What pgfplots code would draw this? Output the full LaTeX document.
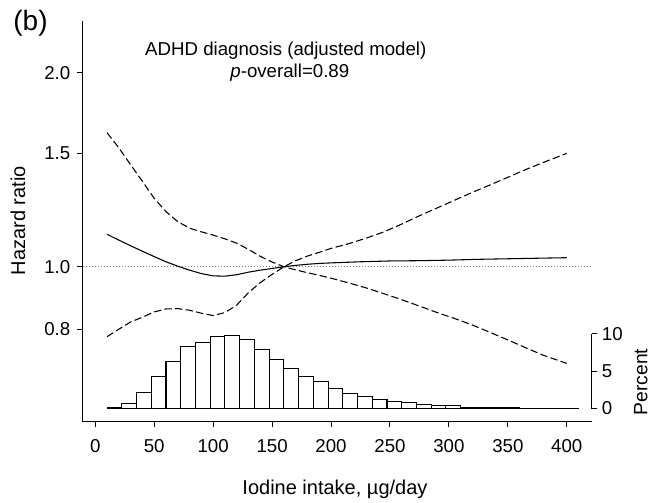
\documentclass[border=0pt]{standalone}
\usepackage{fontspec}
\setmainfont{Liberation Sans}
\usepackage{pgfplots}
\pgfplotsset{compat=1.18}

\pgfplotsset{
  common/.style={
    scale only axis, width=381.6pt, height=300.5pt,
    xmin=-10.7, xmax=421,
    tick align=outside, major tick length=4.3pt,
    tick style={line width=0.75pt, black},
    axis line style={line width=0.75pt},
    ticklabel style={font=\fontsize{14}{16}\selectfont},
    /pgf/number format/assume math mode=true,
  }
}

\begin{document}
\begin{tikzpicture}
\begin{axis}[common,
  ymode=log, ymin=0.5746, ymax=2.407,
  axis x line*=bottom, axis y line*=left,
  xtick={0,50,...,400},
  ytick={0.8,1,1.5,2}, yticklabels={0.8,1.0,1.5,2.0},
  yminorticks=false,
  xticklabel style={yshift=-5.5pt},
  yticklabel style={xshift=-1.5pt},
]
% reference line HR = 1
\addplot[gray, line width=0.75pt, dash pattern=on 0.75pt off 1.5pt] coordinates {(-10.7,1) (421,1)};
% estimate
\addplot[black, line width=0.8pt] coordinates {
(10,1.123) (20,1.100) (30,1.078) (40,1.057) (50,1.037) (60,1.018) (70,1.002)
(80,0.988) (90,0.976) (100,0.968) (110,0.967) (120,0.972) (130,0.981) (140,0.988)
(150,0.994) (160,1.0) (170,1.005) (180,1.009) (190,1.012) (200,1.014) (225,1.018)
(250,1.021) (275,1.022) (300,1.024) (325,1.027) (350,1.029) (375,1.031) (400,1.033)
};
% confidence limits
\addplot[black, line width=0.8pt, dash pattern=on 5.5pt off 2.5pt] coordinates {
(10,1.615) (20,1.53) (30,1.44) (40,1.357) (50,1.277) (60,1.218) (70,1.175) (80,1.148)
(90,1.133) (100,1.12) (110,1.105) (120,1.088) (130,1.064) (140,1.038) (150,1.017)
(160,1.0) (170,0.989) (180,0.979) (190,0.970) (200,0.960) (215,0.944) (230,0.927)
(245,0.908) (260,0.889) (275,0.869) (290,0.849) (305,0.831) (320,0.812) (335,0.791)
(350,0.770) (365,0.749) (380,0.729) (400,0.708)
};
\addplot[black, line width=0.8pt, dash pattern=on 5.5pt off 2.5pt] coordinates {
(10,0.779) (20,0.800) (30,0.821) (40,0.835) (50,0.851) (60,0.860) (70,0.861) (80,0.856)
(90,0.847) (100,0.840) (110,0.849) (120,0.872) (130,0.912) (140,0.945) (150,0.973)
(160,1.0) (170,1.022) (180,1.039) (190,1.053) (200,1.068) (215,1.086) (230,1.108)
(245,1.133) (260,1.165) (275,1.200) (290,1.234) (305,1.269) (320,1.305) (335,1.340)
(350,1.377) (365,1.415) (380,1.452) (400,1.500)
};
\end{axis}

\begin{axis}[common,
  ymin=-1.76, ymax=51.67,
  axis x line=none, axis y line*=right,
  y axis line style={draw=none},
  ytick={0,5,10}, clip=false,
]
\addplot[ybar interval, fill=white, draw=black, line width=0.8pt] coordinates {
(10,0.13) (22.5,0.64) (35,2.16) (47.5,4.24) (60,6.29) (72.5,8.24) (85,8.87) (97.5,9.63)
(110,9.8) (122.5,9.17) (135,7.84) (147.5,6.51) (160,5.31) (172.5,4.24) (185,3.63)
(197.5,2.73) (210,1.97) (222.5,1.57) (235,1.17) (247.5,0.91) (260,0.77) (272.5,0.56)
(285,0.43) (297.5,0.35) (310,0.2) (322.5,0.12) (335,0.1) (347.5,0.08) (360,0.07)
(372.5,0.06) (385,0.05) (397.5,0.04) (410,0.04)
};
\draw[line width=0.75pt] (axis cs:421,0) -- (axis cs:421,10);
\end{axis}

\node[font=\fontsize{21}{24}\selectfont, inner sep=0] at (-39.1pt,299.0pt) {(b)};
\node[font=\fontsize{14}{16}\selectfont, anchor=base west, inner sep=0] at (46.7pt,275.0pt) {ADHD diagnosis (adjusted model)};
\node[font=\fontsize{14}{16}\selectfont, anchor=base west, inner sep=0] at (110.6pt,258.5pt) {\textit{p}-overall=0.89};
\node[font=\fontsize{15}{17}\selectfont, rotate=90, inner sep=0] at (-48.5pt,150.8pt) {Hazard ratio};
\node[font=\fontsize{15}{17}\selectfont, inner sep=0] at (189.2pt,-50.5pt) {Iodine intake, µg/day};
\node[font=\fontsize{14.5}{17}\selectfont, rotate=90, inner sep=0] at (418.5pt,29.8pt) {Percent};

\pgfresetboundingbox
\path[use as bounding box] (-62.0pt,-60.2pt) rectangle (427.7pt,316.3pt);
\end{tikzpicture}
\end{document}
